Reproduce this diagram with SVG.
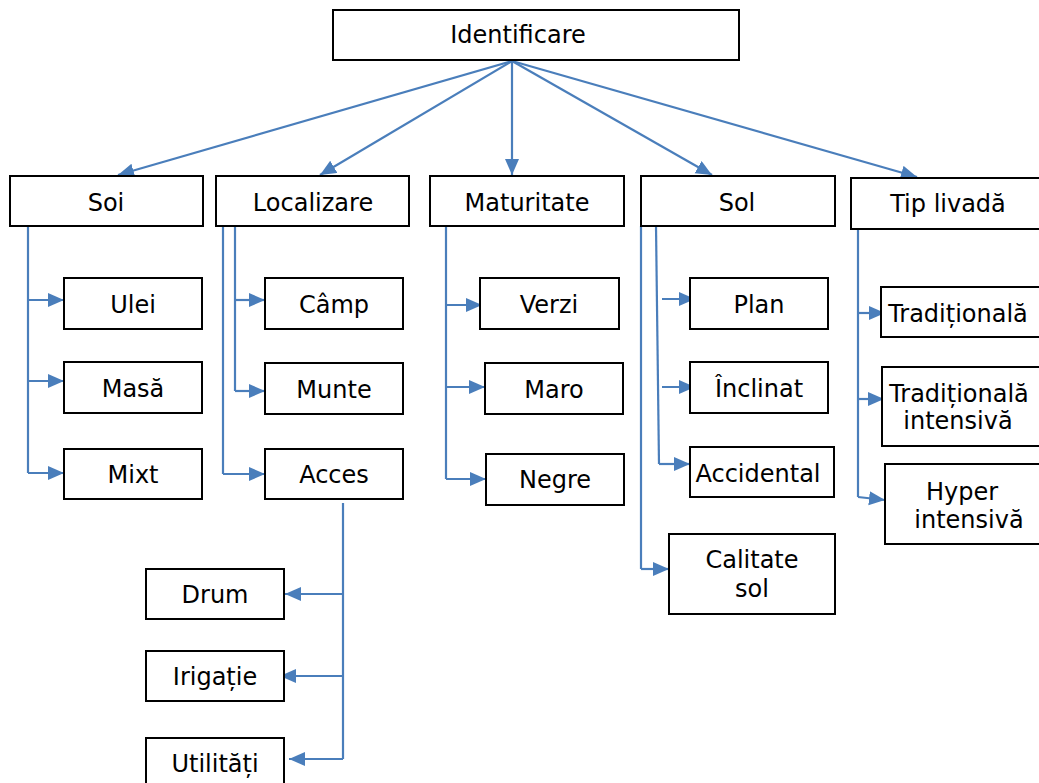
<svg xmlns="http://www.w3.org/2000/svg" width="1039" height="783" viewBox="0 0 1039 783">
<style>
.b{fill:#fff;stroke:#000;stroke-width:2}
.t{font-family:"DejaVu Sans",Verdana,sans-serif;font-size:24px;fill:#000;text-anchor:middle}
.c{fill:none;stroke:#4a7ebb;stroke-width:2.2}
.a{marker-end:url(#ah)}
</style>
<defs>
<marker id="ah" markerUnits="userSpaceOnUse" markerWidth="18" markerHeight="16" refX="16" refY="7" orient="auto">
<path d="M0,0 L16,7 L0,14 z" fill="#4a7ebb"/>
</marker>
</defs>
<rect width="1039" height="783" fill="#fff"/>
<g id="connectors">
<path class="c a" d="M512,61 L118,175"/>
<path class="c a" d="M512,61 L320,175"/>
<path class="c a" d="M512,61 L512,175"/>
<path class="c a" d="M512,61 L712,175"/>
<path class="c a" d="M512,61 L917,177"/>
<path class="c" d="M28,226 L28,473"/>
<path class="c a" d="M28,300 L64,300"/>
<path class="c a" d="M28,381 L64,381"/>
<path class="c a" d="M28,473 L64,473"/>
<path class="c" d="M223,226 L223,474"/>
<path class="c a" d="M223,474 L265,474"/>
<path class="c" d="M235,226 L235,391"/>
<path class="c a" d="M235,300 L265,300"/>
<path class="c a" d="M235,391 L265,391"/>
<path class="c" d="M446,226 L446,479"/>
<path class="c a" d="M446,305 L482,305"/>
<path class="c a" d="M446,387 L485,387"/>
<path class="c a" d="M446,479 L486,479"/>
<path class="c" d="M641,226 L641,569"/>
<path class="c a" d="M641,569 L669,569"/>
<path class="c" d="M656,226 L659,464"/>
<path class="c a" d="M659,464 L690,464"/>
<path class="c a" d="M662,299 L695,299"/>
<path class="c a" d="M662,387 L695,387"/>
<path class="c" d="M858,229 L858,497"/>
<path class="c a" d="M858,313 L885,313"/>
<path class="c a" d="M858,399 L884,399"/>
<path class="c a" d="M858,497 L885,500"/>
<path class="c" d="M343,503 L343,759"/>
<path class="c a" d="M343,594 L285,594"/>
<path class="c a" d="M343,676 L280,676"/>
<path class="c a" d="M343,759 L289,759"/>
</g>
<g id="identificare"><rect class="b" x="333" y="10" width="406" height="50"/><text class="t" x="518" y="43">Identificare</text></g>
<g id="soi"><rect class="b" x="10" y="176" width="193" height="50"/><text class="t" x="106" y="211">Soi</text></g>
<g id="localizare"><rect class="b" x="216" y="176" width="193" height="50"/><text class="t" x="313" y="211">Localizare</text></g>
<g id="maturitate"><rect class="b" x="430" y="176" width="194" height="50"/><text class="t" x="527" y="211">Maturitate</text></g>
<g id="sol"><rect class="b" x="641" y="176" width="194" height="50"/><text class="t" x="737" y="211">Sol</text></g>
<g id="tip-livada"><rect class="b" x="851" y="178" width="200" height="51"/><text class="t" x="948" y="212">Tip livadă</text></g>
<g id="ulei"><rect class="b" x="64" y="278" width="138" height="51"/><text class="t" x="133" y="313">Ulei</text></g>
<g id="masa"><rect class="b" x="64" y="362" width="138" height="51"/><text class="t" x="133" y="397">Masă</text></g>
<g id="mixt"><rect class="b" x="64" y="449" width="138" height="50"/><text class="t" x="133" y="483">Mixt</text></g>
<g id="camp"><rect class="b" x="265" y="278" width="138" height="51"/><text class="t" x="334" y="313">Câmp</text></g>
<g id="munte"><rect class="b" x="265" y="363" width="138" height="51"/><text class="t" x="334" y="398">Munte</text></g>
<g id="acces"><rect class="b" x="265" y="449" width="138" height="50"/><text class="t" x="334" y="483">Acces</text></g>
<g id="verzi"><rect class="b" x="480" y="278" width="139" height="51"/><text class="t" x="549" y="313">Verzi</text></g>
<g id="maro"><rect class="b" x="485" y="363" width="138" height="51"/><text class="t" x="554" y="398">Maro</text></g>
<g id="negre"><rect class="b" x="486" y="454" width="138" height="51"/><text class="t" x="555" y="488">Negre</text></g>
<g id="plan"><rect class="b" x="690" y="278" width="138" height="51"/><text class="t" x="759" y="313">Plan</text></g>
<g id="inclinat"><rect class="b" x="690" y="362" width="138" height="51"/><text class="t" x="759" y="397">Înclinat</text></g>
<g id="accidental"><rect class="b" x="690" y="447" width="144" height="50"/><text class="t" x="758" y="482">Accidental</text></g>
<g id="calitate-sol"><rect class="b" x="669" y="534" width="166" height="80"/><text class="t" x="752" y="568">Calitate</text><text class="t" x="752" y="597">sol</text></g>
<g id="traditionala"><rect class="b" x="881" y="287" width="170" height="50"/><text class="t" x="958" y="322">Tradițională</text></g>
<g id="traditionala-intensiva"><rect class="b" x="882" y="367" width="170" height="79"/><text class="t" x="959" y="402">Tradițională</text><text class="t" x="958" y="429">intensivă</text></g>
<g id="hyper-intensiva"><rect class="b" x="885" y="464" width="170" height="80"/><text class="t" x="962" y="500">Hyper</text><text class="t" x="969" y="528">intensivă</text></g>
<g id="drum"><rect class="b" x="146" y="569" width="138" height="50"/><text class="t" x="215" y="603">Drum</text></g>
<g id="irigatie"><rect class="b" x="146" y="651" width="138" height="50"/><text class="t" x="215" y="685">Irigație</text></g>
<g id="utilitati"><rect class="b" x="146" y="738" width="138" height="60"/><text class="t" x="215" y="772">Utilități</text></g>
</svg>
